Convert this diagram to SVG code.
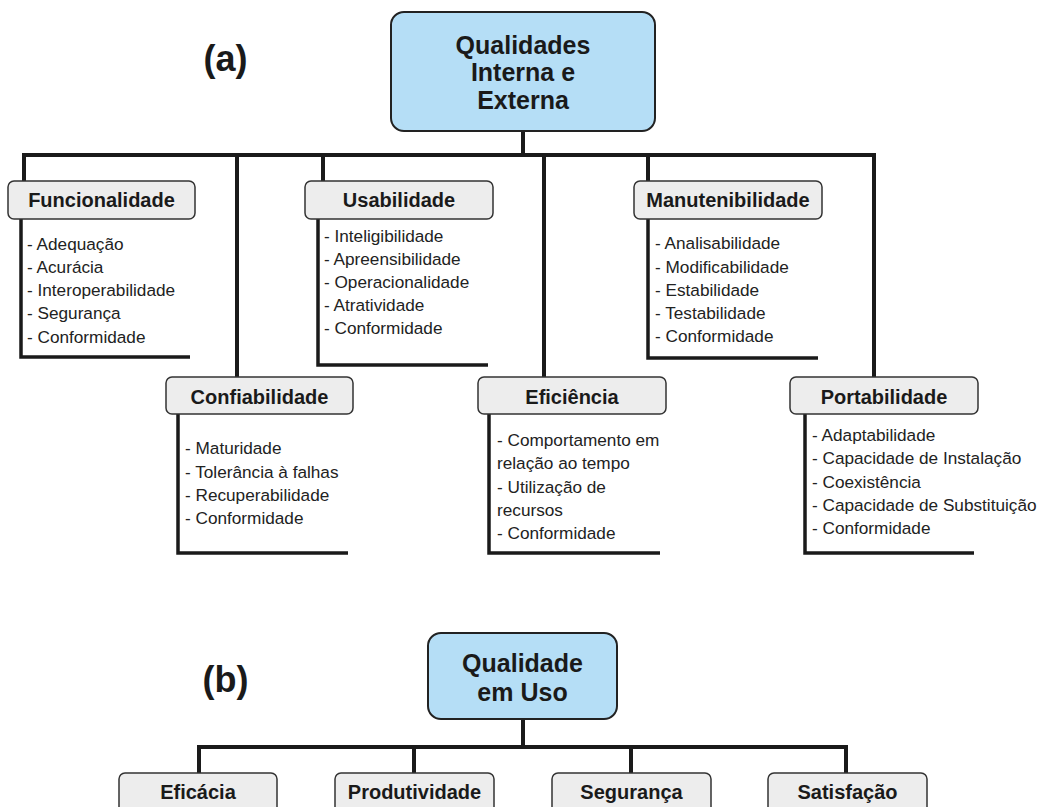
<svg xmlns="http://www.w3.org/2000/svg" width="1040" height="807" viewBox="0 0 1040 807">
  <style>
    .root rect { fill: #b5def6; stroke: #222; stroke-width: 2; }
    .root text { font-family: "Liberation Sans", Arial, sans-serif; font-weight: bold; font-size: 25px; fill: #1a1a1a; text-anchor: middle; }
    .head { fill: #ededed; stroke: #333; stroke-width: 1.5; }
    .title { font-family: "Liberation Sans", Arial, sans-serif; font-weight: bold; font-size: 20px; fill: #1a1a1a; text-anchor: middle; }
    .item { font-family: "Liberation Sans", Arial, sans-serif; font-size: 17.2px; fill: #222; }
    .tag { font-family: "Liberation Sans", Arial, sans-serif; font-weight: bold; font-size: 36px; fill: #1a1a1a; text-anchor: middle; }
    .wire { fill: none; stroke: #1a1a1a; stroke-width: 4; stroke-linecap: butt; stroke-linejoin: miter; }
    .bracket { fill: none; stroke: #1a1a1a; stroke-width: 3.5; }
  </style>

  <!-- part (a) -->
  <text class="tag" x="225.5" y="71">(a)</text>

  <g id="connectors-a">
    <path class="wire" d="M523 131 V155"/>
    <path class="wire" d="M24 181 V155 H874 V377"/>
    <path class="wire" d="M237 155 V377"/>
    <path class="wire" d="M323 155 V181"/>
    <path class="wire" d="M544 155 V377"/>
    <path class="wire" d="M648 155 V181"/>
  </g>

  <g id="root-a" class="root">
    <rect x="391" y="12" width="264" height="119" rx="13"/>
    <text x="523" y="54">Qualidades</text>
    <text x="523" y="81">Interna e</text>
    <text x="523" y="109">Externa</text>
  </g>

  <g id="funcionalidade">
    <path class="bracket" d="M21 219 V357 H190"/>
    <rect class="head" x="8" y="181" width="187" height="38" rx="6"/>
    <text class="title" x="101.5" y="207">Funcionalidade</text>
    <text class="item" x="27" y="250">- Adequação</text>
    <text class="item" x="27" y="273">- Acurácia</text>
    <text class="item" x="27" y="296">- Interoperabilidade</text>
    <text class="item" x="27" y="319">- Segurança</text>
    <text class="item" x="27" y="343">- Conformidade</text>
  </g>

  <g id="usabilidade">
    <path class="bracket" d="M318 219 V365 H488"/>
    <rect class="head" x="305" y="181" width="188" height="38" rx="6"/>
    <text class="title" x="399" y="207">Usabilidade</text>
    <text class="item" x="324" y="242">- Inteligibilidade</text>
    <text class="item" x="324" y="265">- Apreensibilidade</text>
    <text class="item" x="324" y="288">- Operacionalidade</text>
    <text class="item" x="324" y="311">- Atratividade</text>
    <text class="item" x="324" y="334">- Conformidade</text>
  </g>

  <g id="manutenibilidade">
    <path class="bracket" d="M648 219 V358 H818"/>
    <rect class="head" x="634" y="181" width="188" height="38" rx="6"/>
    <text class="title" x="728" y="207">Manutenibilidade</text>
    <text class="item" x="655" y="249">- Analisabilidade</text>
    <text class="item" x="655" y="273">- Modificabilidade</text>
    <text class="item" x="655" y="296">- Estabilidade</text>
    <text class="item" x="655" y="319">- Testabilidade</text>
    <text class="item" x="655" y="342">- Conformidade</text>
  </g>

  <g id="confiabilidade">
    <path class="bracket" d="M178 414 V553 H348"/>
    <rect class="head" x="166" y="377" width="187" height="37" rx="6"/>
    <text class="title" x="259.5" y="404">Confiabilidade</text>
    <text class="item" x="185" y="454">- Maturidade</text>
    <text class="item" x="185" y="478">- Tolerância à falhas</text>
    <text class="item" x="185" y="501">- Recuperabilidade</text>
    <text class="item" x="185" y="524">- Conformidade</text>
  </g>

  <g id="eficiencia">
    <path class="bracket" d="M489 414 V553 H660"/>
    <rect class="head" x="478" y="377" width="188" height="37" rx="6"/>
    <text class="title" x="572" y="404">Eficiência</text>
    <text class="item" x="497" y="446">- Comportamento em</text>
    <text class="item" x="497" y="469">relação ao tempo</text>
    <text class="item" x="497" y="493">- Utilização de</text>
    <text class="item" x="497" y="516">recursos</text>
    <text class="item" x="497" y="539">- Conformidade</text>
  </g>

  <g id="portabilidade">
    <path class="bracket" d="M805 414 V553 H974"/>
    <rect class="head" x="790" y="377" width="188" height="37" rx="6"/>
    <text class="title" x="884" y="404">Portabilidade</text>
    <text class="item" x="812" y="441">- Adaptabilidade</text>
    <text class="item" x="812" y="464">- Capacidade de Instalação</text>
    <text class="item" x="812" y="488">- Coexistência</text>
    <text class="item" x="812" y="511">- Capacidade de Substituição</text>
    <text class="item" x="812" y="534">- Conformidade</text>
  </g>

  <!-- part (b) -->
  <text class="tag" x="225.5" y="692">(b)</text>

  <g id="connectors-b">
    <path class="wire" d="M523 719 V747"/>
    <path class="wire" d="M199 773 V747 H846 V773"/>
    <path class="wire" d="M414 747 V773"/>
    <path class="wire" d="M631 747 V773"/>
  </g>

  <g id="root-b" class="root">
    <rect x="428" y="633" width="189" height="86" rx="13"/>
    <text x="522.5" y="672">Qualidade</text>
    <text x="522.5" y="701">em Uso</text>
  </g>

  <g id="eficacia">
    <rect class="head" x="119" y="773" width="158" height="42" rx="6"/>
    <text class="title" x="198" y="799">Eficácia</text>
  </g>
  <g id="produtividade">
    <rect class="head" x="335" y="773" width="159" height="42" rx="6"/>
    <text class="title" x="414.5" y="799">Produtividade</text>
  </g>
  <g id="seguranca">
    <rect class="head" x="552" y="773" width="159" height="42" rx="6"/>
    <text class="title" x="631.5" y="799">Segurança</text>
  </g>
  <g id="satisfacao">
    <rect class="head" x="768" y="773" width="159" height="42" rx="6"/>
    <text class="title" x="847.5" y="799">Satisfação</text>
  </g>
</svg>
